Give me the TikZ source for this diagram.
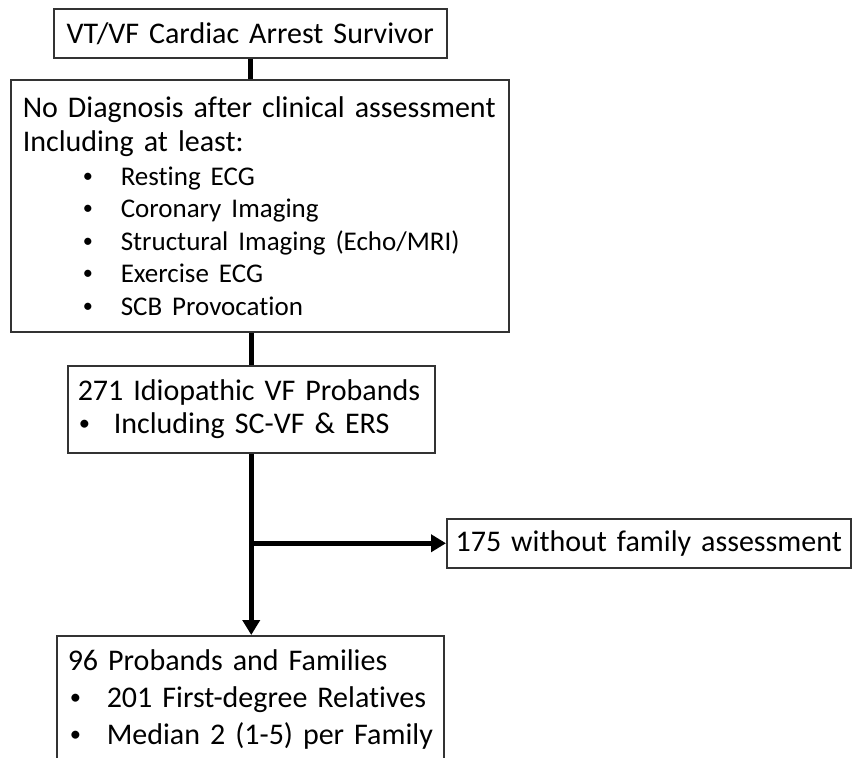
\documentclass[tikz,border=0pt]{standalone}
\usepackage{fontspec}
\usepackage{graphicx}
\setmainfont{Carlito}[Ligatures={NoCommon}]
\usetikzlibrary{arrows.meta}

\newcommand{\bul}{\raisebox{0.1em}{\scalebox{0.75}{\textbullet}}}
\newcommand{\itm}[3]{\mbox{\hspace*{#1}\makebox[#2][l]{\bul}#3}}

\begin{document}
\begin{tikzpicture}[
  x=0.5pt, y=-0.5pt,
  font=\fontsize{15}{16.5}\selectfont,
  box/.style={draw=black!80, line width=0.75pt, inner ysep=0pt,
              align=left, anchor=north west},
  arr/.style={-{Triangle[length=7.5pt, width=8.5pt]}, line width=2.25pt},
  ln/.style={line width=2.25pt}
]
  \useasboundingbox (0,0) rectangle (852,757);
  \clip (0,0) rectangle (852,757);

  \node[box, align=center, inner xsep=4pt, text width=188.5pt,
        minimum height=24.5pt] (surv) at (53,8)
    {\mbox{VT/VF Cardiac Arrest Survivor}};
  \node[box, inner xsep=6pt, text width=237pt, minimum height=126pt,
        font=\fontsize{15}{16.25}\selectfont] (nodx) at (10,79)
    {\mbox{No Diagnosis after clinical assessment}\\[0.75pt]
     \mbox{Including at least:}\\[0.75pt]
     {\fontsize{13.5}{16.25}\selectfont\itm{30pt}{19pt}{Resting ECG}}\\
     {\fontsize{13.5}{16.25}\selectfont\itm{30pt}{19pt}{Coronary Imaging}}\\
     {\fontsize{13.5}{16.25}\selectfont\itm{30pt}{19pt}{Structural Imaging (Echo/MRI)}}\\
     {\fontsize{13.5}{16.25}\selectfont\itm{30pt}{19pt}{Exercise ECG}}\\
     {\fontsize{13.5}{16.25}\selectfont\itm{30pt}{19pt}{SCB Provocation}}};
  \node[box, inner xsep=5pt, text width=173.5pt, minimum height=43.5pt]
    (idvf) at (67,365)
    {\mbox{271 Idiopathic VF Probands}\\
     \itm{0.5pt}{17.5pt}{Including SC-VF \& ERS}};
  \node[box, align=center, inner xsep=4pt, text width=194pt,
        minimum height=24.5pt] (nofam) at (446,518)
    {\mbox{175 without family assessment}};
  \node[box, inner xsep=5.5pt, text width=182.5pt, minimum height=63.5pt,
        font=\fontsize{15}{18.5}\selectfont] (fam) at (56,635)
    {\mbox{96 Probands and Families}\\
     \itm{1pt}{18.5pt}{201 First-degree Relatives}\\
     \itm{1pt}{18.5pt}{Median 2 (1-5) per Family}};

  % connectors
  \draw[ln] (surv.south) -- (surv.south |- nodx.north);
  \draw[ln] (idvf.north |- nodx.south) -- (idvf.north);
  \draw[arr] (idvf.south) -- (idvf.south |- fam.north);
  \coordinate (split) at (idvf.south |- nofam.west);
  \draw[arr] (split) -- (nofam.west);
\end{tikzpicture}
\end{document}
